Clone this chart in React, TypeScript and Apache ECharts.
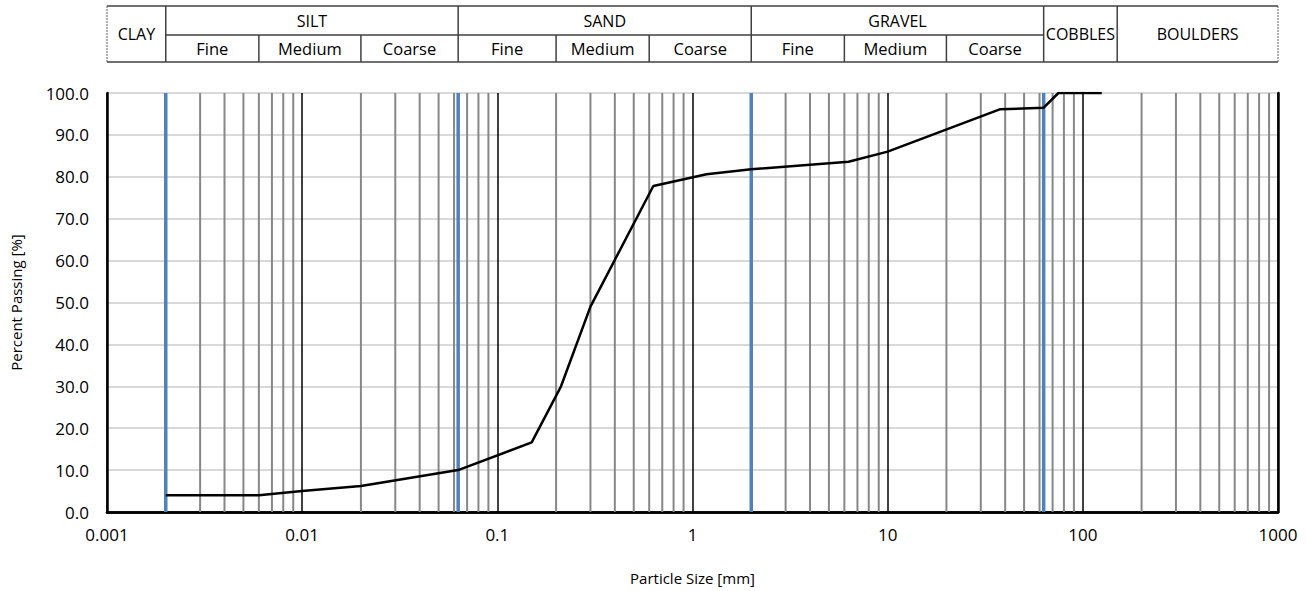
import React, { useEffect, useRef } from 'react';
import * as echarts from 'echarts';

// Grain size distribution (particle size in mm, percent passing)
const sizes = [0.002, 0.006, 0.01, 0.02, 0.063, 0.15, 0.212, 0.3, 0.63, 1.18, 2, 6.3, 10, 37.5, 63, 75, 125];
const passing = [4.0, 4.0, 5.0, 6.2, 10.0, 16.6, 30.0, 49.0, 77.8, 80.6, 81.8, 83.6, 86.0, 96.1, 96.5, 100.0, 100.0];

// Soil class boundaries (mm) drawn as blue lines
const boundaryLines = [0.002, 0.063, 2, 63];

// Decades and minor multipliers for the log grid
const decades = [0.001, 0.01, 0.1, 1, 10, 100];
const minorMultipliers = [2, 3, 4, 5, 6, 7, 8, 9];

// Header table
const mainGroups = [
  { label: 'CLAY', from: 0.001, to: 0.002, full: true },
  { label: 'SILT', from: 0.002, to: 0.063, full: false },
  { label: 'SAND', from: 0.063, to: 2, full: false },
  { label: 'GRAVEL', from: 2, to: 63, full: false },
  { label: 'COBBLES', from: 63, to: 150, full: true },
  { label: 'BOULDERS', from: 150, to: 1000, full: true },
];
const subGroups = [
  { label: 'Fine', from: 0.002, to: 0.006 },
  { label: 'Medium', from: 0.006, to: 0.02 },
  { label: 'Coarse', from: 0.02, to: 0.063 },
  { label: 'Fine', from: 0.063, to: 0.2 },
  { label: 'Medium', from: 0.2, to: 0.6 },
  { label: 'Coarse', from: 0.6, to: 2 },
  { label: 'Fine', from: 2, to: 6 },
  { label: 'Medium', from: 6, to: 20 },
  { label: 'Coarse', from: 20, to: 63 },
];

const FONT = "'Open Sans', 'Noto Sans', sans-serif";

const verticalLineSeries = (values: number[], color: string, width: number, z: number) => ({
  type: 'custom',
  z,
  silent: true,
  clip: false,
  data: values.map((v) => [v, 0]),
  encode: { x: 0, y: 1 },
  renderItem: (_params: any, api: any) => {
    const v = api.value(0);
    const p0 = api.coord([v, 0]);
    const p1 = api.coord([v, 100]);
    return {
      type: 'line',
      shape: { x1: p0[0], y1: p0[1], x2: p1[0], y2: p1[1] },
      style: { stroke: color, lineWidth: width },
    };
  },
});

export default function App() {
  const ref = useRef<HTMLDivElement>(null);

  useEffect(() => {
    if (!ref.current) return;
    const chart = echarts.init(ref.current, undefined, { renderer: 'svg' });

    const minorValues: number[] = [];
    decades.forEach((d) => minorMultipliers.forEach((m) => minorValues.push(+(d * m).toPrecision(6))));

    const curve = sizes.map((s, i) => [s, passing[i]]);

    const frameAxis = { show: true, lineStyle: { color: '#000', width: 2.5 } };

    chart.setOption({
      animation: false,
      textStyle: { fontFamily: FONT, color: '#000' },
      grid: { left: 107, right: 29, top: 93, bottom: 79 },
      xAxis: [
        {
          type: 'log',
          logBase: 10,
          min: 0.001,
          max: 1000,
          name: 'Particle Size [mm]',
          nameLocation: 'middle',
          nameGap: 58,
          nameTextStyle: { fontSize: 15, color: '#000', fontFamily: FONT },
          axisLine: frameAxis,
          axisTick: { show: false },
          axisLabel: {
            fontSize: 17,
            color: '#000',
            margin: 14,
            fontFamily: FONT,
            formatter: (v: number) => {
              const e = Math.round(Math.log10(v));
              return e < 0 ? Math.pow(10, e).toFixed(-e) : String(Math.round(Math.pow(10, e)));
            },
          },
          splitLine: { show: true, lineStyle: { color: '#000', width: 1.5 } },
        },
        {
          type: 'log',
          logBase: 10,
          min: 0.001,
          max: 1000,
          position: 'top',
          axisLine: frameAxis,
          axisTick: { show: false },
          axisLabel: { show: false },
          splitLine: { show: false },
        },
      ],
      yAxis: [
        {
          type: 'value',
          min: 0,
          max: 100,
          interval: 10,
          name: 'Percent Passing [%]',
          nameLocation: 'middle',
          nameGap: 84,
          nameTextStyle: { fontSize: 15, color: '#000', fontFamily: FONT },
          axisLine: frameAxis,
          axisTick: { show: false },
          axisLabel: {
            fontSize: 17,
            color: '#000',
            margin: 18,
            fontFamily: FONT,
            formatter: (v: number) => v.toFixed(1),
          },
          splitLine: { show: true, lineStyle: { color: '#d9d9d9', width: 2 } },
        },
        {
          type: 'value',
          min: 0,
          max: 100,
          interval: 10,
          position: 'right',
          axisLine: frameAxis,
          axisTick: { show: false },
          axisLabel: { show: false },
          splitLine: { show: false },
        },
      ],
      series: [
        verticalLineSeries(minorValues, '#878787', 2, 2),
        verticalLineSeries(boundaryLines, '#4f81bd', 3.5, 3),
        {
          type: 'line',
          data: curve,
          z: 5,
          showSymbol: false,
          symbol: 'none',
          lineStyle: { color: '#000', width: 2.5 },
        },
      ],
    });

    // Header table aligned with the particle-size axis
    const px = (v: number) => chart.convertToPixel({ xAxisIndex: 0 }, v) as number;
    const yTop = 6;
    const yMid = 35;
    const yBot = 62;
    const x0 = px(0.001);
    const x1 = px(1000);
    const lineColor = '#404040';
    const elements: any[] = [];
    const addLine = (xa: number, ya: number, xb: number, yb: number, w: number, dash?: number[], color = lineColor) =>
      elements.push({
        type: 'line',
        shape: { x1: xa, y1: ya, x2: xb, y2: yb },
        style: { stroke: color, lineWidth: w, lineDash: dash },
        silent: true,
      });
    addLine(x0, yTop, x1, yTop, 1.5);
    addLine(x0, yBot, x1, yBot, 1.5);
    addLine(x0, yTop, x0, yBot, 1, [2, 1], '#606060');
    addLine(x1, yTop, x1, yBot, 1, [2, 1], '#606060');
    addLine(px(0.002), yMid, px(63), yMid, 1.5);
    const textStyle = (text: string, size: number) => ({
      text,
      fontSize: size,
      fontFamily: FONT,
      fill: '#000',
      align: 'center',
      verticalAlign: 'middle',
    });
    mainGroups.forEach((g) => {
      const a = px(g.from);
      const b = px(g.to);
      if (g.from !== 0.001) addLine(a, yTop, a, yBot, 1.5);
      elements.push({
        type: 'text',
        x: (a + b) / 2,
        y: g.full ? (yTop + yBot) / 2 : (yTop + yMid) / 2,
        silent: true,
        style: textStyle(g.label, 16),
      });
    });
    subGroups.forEach((g) => {
      const a = px(g.from);
      const b = px(g.to);
      if (![0.002, 0.063, 2].includes(g.from)) addLine(a, yMid, a, yBot, 1.5);
      elements.push({
        type: 'text',
        x: (a + b) / 2,
        y: (yMid + yBot) / 2,
        silent: true,
        style: textStyle(g.label, 16.5),
      });
    });
    chart.setOption({ graphic: { elements } });

    return () => chart.dispose();
  }, []);

  return <div ref={ref} style={{ position: 'fixed', left: 0, top: 0, width: 1307, height: 591, background: '#fff' }} />;
}
